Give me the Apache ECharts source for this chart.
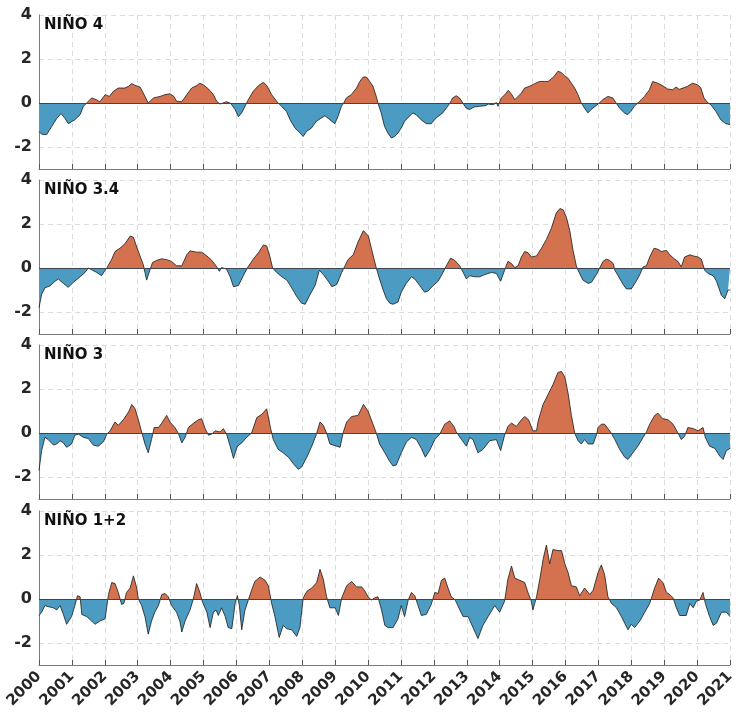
<!DOCTYPE html>
<html>
<head>
<meta charset="utf-8">
<script src="https://cdn.jsdelivr.net/npm/echarts@6/dist/echarts.min.js"></script>
<style>html,body{margin:0;padding:0;background:#fff}#c{width:738px;height:721px}</style>
</head>
<body>
<div id="c"></div>
<script>
const panelNames = ['NIÑO 4', 'NIÑO 3.4', 'NIÑO 3', 'NIÑO 1+2'];
const yTicks = [-2, 0, 2, 4];
const yearMin = 2000, yearMax = 2021;

const nino4 = [[2000.00,-1.29],[2000.08,-1.42],[2000.23,-1.44],[2000.39,-1.06],[2000.54,-0.70],[2000.67,-0.48],[2000.79,-0.70],[2000.89,-0.94],[2001.09,-0.76],[2001.25,-0.53],[2001.35,-0.15],[2001.45,0],[2001.60,0.23],[2001.75,0.15],[2001.85,0.05],[2002.01,0.38],[2002.06,0.45],[2002.14,0.30],[2002.26,0.53],[2002.41,0.68],[2002.61,0.68],[2002.72,0.76],[2002.82,0.88],[2002.92,0.80],[2003.07,0.73],[2003.17,0.45],[2003.32,0],[2003.48,0.23],[2003.68,0.30],[2003.83,0.38],[2003.98,0.42],[2004.10,0.30],[2004.18,0.08],[2004.34,0.06],[2004.49,0.38],[2004.64,0.68],[2004.79,0.79],[2004.89,0.90],[2004.99,0.83],[2005.15,0.64],[2005.30,0.38],[2005.40,0.08],[2005.50,-0.05],[2005.70,0.06],[2005.83,-0.02],[2005.96,-0.30],[2006.06,-0.62],[2006.16,-0.45],[2006.31,0],[2006.36,0.15],[2006.51,0.53],[2006.67,0.79],[2006.82,0.94],[2006.92,0.80],[2007.07,0.38],[2007.22,0.08],[2007.27,0],[2007.37,-0.15],[2007.52,-0.38],[2007.63,-0.76],[2007.78,-1.14],[2007.93,-1.36],[2008.03,-1.52],[2008.13,-1.29],[2008.28,-1.14],[2008.43,-0.83],[2008.58,-0.68],[2008.69,-0.58],[2008.84,-0.76],[2008.99,-0.94],[2009.09,-0.60],[2009.19,-0.15],[2009.26,0],[2009.34,0.23],[2009.49,0.38],[2009.65,0.68],[2009.75,0.98],[2009.85,1.18],[2009.95,1.18],[2010.05,0.98],[2010.15,0.76],[2010.25,0.30],[2010.30,0],[2010.40,-0.45],[2010.50,-1.06],[2010.60,-1.36],[2010.71,-1.59],[2010.81,-1.52],[2010.91,-1.36],[2011.01,-1.14],[2011.11,-0.83],[2011.26,-0.60],[2011.36,-0.45],[2011.46,-0.53],[2011.61,-0.76],[2011.77,-0.94],[2011.92,-0.94],[2012.07,-0.68],[2012.27,-0.45],[2012.42,-0.15],[2012.49,0],[2012.57,0.23],[2012.68,0.33],[2012.78,0.23],[2012.88,0],[2012.98,-0.23],[2013.08,-0.30],[2013.23,-0.18],[2013.38,-0.15],[2013.58,-0.12],[2013.65,-0.05],[2013.80,-0.08],[2013.90,0.02],[2013.95,-0.15],[2014.05,0.23],[2014.16,0.38],[2014.26,0.58],[2014.36,0.40],[2014.46,0.15],[2014.56,0.30],[2014.66,0.45],[2014.76,0.68],[2014.91,0.76],[2015.06,0.88],[2015.22,0.98],[2015.37,0.98],[2015.47,0.98],[2015.57,1.09],[2015.67,1.24],[2015.77,1.44],[2015.87,1.39],[2015.97,1.24],[2016.07,1.14],[2016.18,0.90],[2016.28,0.68],[2016.38,0.38],[2016.48,0],[2016.58,-0.23],[2016.68,-0.45],[2016.78,-0.30],[2016.93,-0.12],[2017.03,0],[2017.13,0.15],[2017.29,0.30],[2017.44,0.23],[2017.54,0],[2017.64,-0.23],[2017.79,-0.45],[2017.89,-0.53],[2017.99,-0.38],[2018.09,-0.15],[2018.20,0],[2018.30,0.15],[2018.40,0.30],[2018.55,0.60],[2018.65,0.98],[2018.80,0.90],[2018.95,0.79],[2019.10,0.64],[2019.26,0.60],[2019.36,0.73],[2019.46,0.62],[2019.61,0.70],[2019.71,0.76],[2019.86,0.90],[2020.01,0.83],[2020.11,0.70],[2020.21,0.23],[2020.32,0.02],[2020.42,-0.08],[2020.57,-0.38],[2020.72,-0.76],[2020.87,-0.94],[2021.00,-0.98]];

const nino34 = [[2000.00,-1.80],[2000.08,-1.20],[2000.18,-0.90],[2000.33,-0.82],[2000.49,-0.60],[2000.59,-0.50],[2000.74,-0.70],[2000.89,-0.88],[2001.04,-0.65],[2001.25,-0.40],[2001.40,-0.20],[2001.50,0],[2001.60,-0.08],[2001.75,-0.20],[2001.90,-0.35],[2002.01,-0.10],[2002.06,0],[2002.21,0.40],[2002.31,0.75],[2002.46,0.90],[2002.61,1.10],[2002.77,1.45],[2002.87,1.40],[2002.97,0.95],[2003.07,0.55],[2003.17,0.15],[2003.27,-0.55],[2003.37,-0.10],[2003.45,0.25],[2003.58,0.35],[2003.73,0.42],[2003.88,0.38],[2004.03,0.30],[2004.18,0.10],[2004.34,0.10],[2004.49,0.60],[2004.59,0.78],[2004.79,0.72],[2004.94,0.72],[2005.10,0.55],[2005.25,0.35],[2005.38,0.10],[2005.48,-0.15],[2005.55,0.02],[2005.70,-0.05],[2005.81,-0.40],[2005.91,-0.85],[2006.06,-0.80],[2006.21,-0.35],[2006.33,0],[2006.51,0.40],[2006.67,0.70],[2006.82,1.05],[2006.92,1.00],[2007.02,0.50],[2007.10,0],[2007.22,-0.20],[2007.38,-0.40],[2007.53,-0.55],[2007.68,-0.90],[2007.83,-1.30],[2007.98,-1.60],[2008.09,-1.65],[2008.24,-1.20],[2008.39,-0.80],[2008.52,-0.10],[2008.64,-0.30],[2008.79,-0.60],[2008.90,-0.85],[2009.05,-0.75],[2009.20,-0.20],[2009.30,0.10],[2009.40,0.40],[2009.55,0.60],[2009.70,1.20],[2009.86,1.70],[2010.01,1.45],[2010.10,0.90],[2010.25,0],[2010.35,-0.50],[2010.46,-1.00],[2010.56,-1.40],[2010.66,-1.60],[2010.76,-1.65],[2010.91,-1.55],[2011.01,-1.10],[2011.16,-0.70],[2011.32,-0.40],[2011.42,-0.50],[2011.57,-0.80],[2011.72,-1.10],[2011.82,-1.05],[2011.98,-0.80],[2012.13,-0.60],[2012.28,-0.20],[2012.38,0.10],[2012.51,0.45],[2012.63,0.35],[2012.79,0.10],[2012.89,-0.20],[2012.99,-0.50],[2013.09,-0.35],[2013.24,-0.40],[2013.39,-0.40],[2013.55,-0.30],[2013.75,-0.20],[2013.90,-0.25],[2014.03,-0.60],[2014.15,-0.10],[2014.25,0.30],[2014.36,0.20],[2014.46,0.02],[2014.56,0.10],[2014.66,0.50],[2014.76,0.75],[2014.86,0.70],[2014.96,0.50],[2015.12,0.55],[2015.27,0.90],[2015.42,1.30],[2015.57,1.80],[2015.72,2.50],[2015.83,2.70],[2015.93,2.65],[2016.03,2.30],[2016.13,1.70],[2016.23,0.80],[2016.33,0.10],[2016.38,-0.10],[2016.53,-0.55],[2016.69,-0.70],[2016.79,-0.65],[2016.94,-0.30],[2017.04,0],[2017.14,0.30],[2017.24,0.40],[2017.34,0.35],[2017.45,0.20],[2017.50,-0.10],[2017.60,-0.35],[2017.75,-0.75],[2017.85,-0.95],[2018.00,-0.95],[2018.15,-0.60],[2018.26,-0.30],[2018.36,0.05],[2018.46,0.10],[2018.56,0.50],[2018.69,0.90],[2018.81,0.85],[2018.91,0.75],[2019.07,0.80],[2019.17,0.60],[2019.32,0.40],[2019.42,0.30],[2019.52,0.05],[2019.62,0.50],[2019.78,0.60],[2019.88,0.55],[2020.03,0.50],[2020.13,0.40],[2020.23,-0.10],[2020.33,-0.25],[2020.49,-0.35],[2020.59,-0.60],[2020.74,-1.25],[2020.84,-1.40],[2020.94,-1.00],[2021.00,-1.00]];

const nino3 = [[2000.00,-1.70],[2000.08,-0.80],[2000.18,-0.20],[2000.28,-0.30],[2000.44,-0.55],[2000.54,-0.50],[2000.64,-0.35],[2000.74,-0.45],[2000.84,-0.65],[2000.99,-0.50],[2001.09,-0.10],[2001.20,-0.05],[2001.35,-0.20],[2001.50,-0.25],[2001.65,-0.55],[2001.80,-0.60],[2001.96,-0.40],[2002.06,-0.05],[2002.16,0.10],[2002.31,0.50],[2002.41,0.35],[2002.56,0.60],[2002.72,0.95],[2002.82,1.30],[2002.92,1.10],[2003.02,0.60],[2003.12,0.05],[2003.22,-0.50],[2003.32,-0.90],[2003.42,-0.30],[2003.50,0.25],[2003.63,0.25],[2003.73,0.45],[2003.88,0.80],[2003.98,0.50],[2004.13,0.25],[2004.23,0],[2004.34,-0.45],[2004.44,-0.20],[2004.54,0.25],[2004.70,0.45],[2004.84,0.60],[2004.94,0.65],[2005.05,0.20],[2005.15,-0.10],[2005.25,-0.05],[2005.35,0.10],[2005.50,0.05],[2005.60,0.20],[2005.70,-0.05],[2005.81,-0.60],[2005.91,-1.15],[2006.03,-0.60],[2006.16,-0.45],[2006.31,-0.20],[2006.46,0],[2006.62,0.70],[2006.77,0.85],[2006.92,1.10],[2007.04,0.20],[2007.12,-0.30],[2007.27,-0.75],[2007.42,-0.90],[2007.58,-1.10],[2007.73,-1.40],[2007.88,-1.65],[2007.98,-1.55],[2008.14,-1.10],[2008.29,-0.60],[2008.42,-0.10],[2008.54,0.50],[2008.64,0.35],[2008.74,0],[2008.84,-0.50],[2009.05,-0.60],[2009.15,-0.65],[2009.25,0.05],[2009.35,0.50],[2009.50,0.75],[2009.70,0.80],[2009.86,1.30],[2010.00,1.00],[2010.10,0.60],[2010.25,0],[2010.35,-0.50],[2010.51,-0.90],[2010.66,-1.30],[2010.76,-1.50],[2010.86,-1.45],[2011.01,-0.90],[2011.17,-0.40],[2011.32,-0.20],[2011.47,-0.30],[2011.62,-0.70],[2011.74,-1.10],[2011.87,-0.80],[2012.03,-0.30],[2012.18,-0.05],[2012.33,0.40],[2012.48,0.55],[2012.61,0.30],[2012.68,0.05],[2012.84,-0.30],[2012.99,-0.60],[2013.09,-0.20],[2013.19,-0.30],[2013.34,-0.90],[2013.49,-0.75],[2013.70,-0.35],[2013.90,-0.30],[2014.03,-0.80],[2014.15,-0.10],[2014.25,0.30],[2014.36,0.45],[2014.51,0.30],[2014.66,0.60],[2014.76,0.75],[2014.88,0.60],[2015.01,0.10],[2015.12,0.10],[2015.17,0.55],[2015.32,1.30],[2015.47,1.75],[2015.62,2.20],[2015.77,2.75],[2015.88,2.80],[2015.98,2.55],[2016.08,1.80],[2016.18,0.80],[2016.28,0],[2016.38,-0.35],[2016.48,-0.50],[2016.58,-0.30],[2016.69,-0.50],[2016.84,-0.50],[2016.94,-0.10],[2016.99,0.25],[2017.09,0.40],[2017.19,0.40],[2017.29,0.20],[2017.39,0],[2017.50,-0.30],[2017.65,-0.75],[2017.80,-1.10],[2017.90,-1.20],[2018.05,-0.90],[2018.20,-0.60],[2018.36,-0.20],[2018.46,0.05],[2018.56,0.40],[2018.71,0.80],[2018.81,0.90],[2018.96,0.65],[2019.12,0.60],[2019.27,0.40],[2019.42,0],[2019.52,-0.30],[2019.62,-0.15],[2019.72,0.25],[2019.88,0.20],[2020.03,0.10],[2020.18,0.25],[2020.25,-0.20],[2020.38,-0.60],[2020.54,-0.70],[2020.69,-1.05],[2020.79,-1.20],[2020.89,-0.80],[2021.00,-0.70]];

const nino12 = [[2000.00,-0.75],[2000.08,-0.60],[2000.18,-0.30],[2000.28,-0.35],[2000.44,-0.40],[2000.54,-0.50],[2000.64,-0.30],[2000.74,-0.70],[2000.84,-1.15],[2000.99,-0.80],[2001.09,-0.30],[2001.17,0.15],[2001.25,0.10],[2001.30,-0.70],[2001.45,-0.80],[2001.60,-1.00],[2001.70,-1.15],[2001.85,-1.00],[2002.01,-0.90],[2002.11,0.20],[2002.21,0.75],[2002.31,0.70],[2002.41,0.30],[2002.51,-0.25],[2002.58,-0.20],[2002.66,0.30],[2002.77,0.50],[2002.87,1.05],[2002.97,0.50],[2003.02,0],[2003.12,-0.30],[2003.22,-0.80],[2003.32,-1.60],[2003.42,-1.00],[2003.52,-0.60],[2003.63,-0.30],[2003.73,0.20],[2003.83,0.25],[2003.93,0.10],[2004.03,-0.30],[2004.18,-0.60],[2004.28,-1.00],[2004.34,-1.50],[2004.44,-1.00],[2004.59,-0.50],[2004.69,0],[2004.79,0.70],[2004.89,0.30],[2004.96,-0.10],[2005.10,-0.60],[2005.20,-1.30],[2005.30,-0.60],[2005.38,-0.50],[2005.45,-0.75],[2005.55,-0.40],[2005.66,-0.80],[2005.75,-1.30],[2005.86,-1.35],[2005.96,-0.20],[2006.03,0.15],[2006.09,-0.30],[2006.16,-1.40],[2006.26,-0.50],[2006.36,-0.05],[2006.46,0.40],[2006.56,0.80],[2006.72,1.00],[2006.87,0.85],[2006.97,0.60],[2007.07,-0.20],[2007.17,-0.80],[2007.30,-1.75],[2007.42,-1.20],[2007.53,-1.35],[2007.68,-1.40],[2007.83,-1.70],[2007.93,-1.30],[2008.03,0.05],[2008.14,0.35],[2008.29,0.50],[2008.44,0.75],[2008.54,1.35],[2008.64,0.90],[2008.74,0.10],[2008.84,-0.40],[2009.00,-0.40],[2009.10,-0.75],[2009.20,0.05],[2009.35,0.60],[2009.50,0.80],[2009.65,0.55],[2009.81,0.55],[2009.91,0.35],[2010.00,0.10],[2010.10,-0.05],[2010.20,0.05],[2010.30,0.10],[2010.41,-0.50],[2010.51,-1.20],[2010.61,-1.30],[2010.76,-1.30],[2010.91,-0.90],[2011.01,-0.30],[2011.11,-0.80],[2011.22,-0.05],[2011.32,0.30],[2011.42,0.15],[2011.52,-0.30],[2011.62,-0.75],[2011.77,-0.70],[2011.92,-0.25],[2012.03,0.30],[2012.13,0.25],[2012.23,0.85],[2012.33,0.95],[2012.43,0.50],[2012.53,0.10],[2012.65,-0.05],[2012.79,-0.50],[2012.89,-0.80],[2013.04,-0.80],[2013.19,-1.30],[2013.34,-1.80],[2013.49,-1.20],[2013.65,-0.80],[2013.85,-0.30],[2014.00,-0.60],[2014.15,-0.10],[2014.25,0.90],[2014.36,1.50],[2014.46,0.95],[2014.61,0.85],[2014.76,0.75],[2014.86,0.30],[2014.96,-0.10],[2015.01,-0.50],[2015.12,0.10],[2015.22,0.90],[2015.32,1.80],[2015.42,2.45],[2015.52,1.60],[2015.62,2.25],[2015.77,2.20],[2015.88,2.20],[2015.98,1.60],[2016.08,1.20],[2016.18,0.60],[2016.33,0.55],[2016.43,0.15],[2016.58,0.50],[2016.74,0.20],[2016.84,0.40],[2016.99,1.20],[2017.09,1.55],[2017.19,1.10],[2017.29,0.10],[2017.40,-0.20],[2017.55,-0.40],[2017.70,-0.80],[2017.80,-1.10],[2017.90,-1.40],[2018.00,-1.15],[2018.10,-1.30],[2018.26,-1.00],[2018.41,-0.60],[2018.56,-0.20],[2018.71,0.50],[2018.83,0.95],[2018.96,0.75],[2019.07,0.30],[2019.17,0.20],[2019.27,0.05],[2019.37,-0.40],[2019.47,-0.75],[2019.67,-0.75],[2019.78,-0.20],[2019.88,-0.40],[2019.98,-0.10],[2020.08,-0.05],[2020.18,0.30],[2020.25,-0.20],[2020.38,-0.80],[2020.49,-1.20],[2020.59,-1.10],[2020.74,-0.60],[2020.89,-0.60],[2021.00,-0.80]];

const seriesData = [nino4, nino34, nino3, nino12];

const ORANGE = '#d4714e', BLUE = '#4b9bc3';
const FONT = 'DejaVu Sans';
const gridTops = [15, 180, 345, 511];
const GRID_H = 154;

const chart = echarts.init(document.getElementById('c'), null, {renderer: 'canvas'});
const grids = [], xAxes = [], yAxes = [], series = [], titles = [];
for (let i = 0; i < 4; i++) {
  grids.push({left: 39, right: 8, top: gridTops[i], height: GRID_H});
  const last = i === 3;
  xAxes.push({
    type: 'value', gridIndex: i, min: yearMin, max: yearMax, interval: 1,
    axisLine: {show: true, onZero: false, lineStyle: {color: '#7a7a7a', width: 1}},
    axisTick: {show: true, inside: true, length: 5, lineStyle: {color: '#555'}},
    splitLine: {show: true, lineStyle: {color: '#dcdcdc', type: [5, 4], width: 1}},
    axisLabel: {show: last, rotate: 45, margin: 9, fontFamily: FONT, fontWeight: 'bold', fontSize: 15, color: '#262626', formatter: v => String(v)}
  });
  yAxes.push({
    type: 'value', gridIndex: i, min: -3, max: 4,
    axisLine: {show: true, onZero: false, lineStyle: {color: '#7a7a7a', width: 1}},
    axisTick: {show: false, customValues: yTicks},
    splitLine: {show: true, lineStyle: {color: '#dcdcdc', type: [5, 4], width: 1}},
    axisLabel: {customValues: yTicks, margin: 7, fontFamily: FONT, fontWeight: 'bold', fontSize: 16, color: '#262626'}
  });
  series.push({
    type: 'line', xAxisIndex: i, yAxisIndex: i, data: seriesData[i],
    symbol: 'none', showSymbol: false, smooth: false,
    lineStyle: {color: '#1a1a1a', width: 0.8},
    areaStyle: {opacity: 1, origin: 0},
    markLine: {silent: true, symbol: 'none', label: {show: false}, animation: false,
      lineStyle: {color: '#3d4650', width: 1.2, type: 'solid'}, data: [{yAxis: 0}]}
  });
  titles.push({text: panelNames[i], left: 44, top: gridTops[i] + 3, padding: 0,
    textStyle: {fontFamily: FONT, fontWeight: 'bold', fontSize: 15, color: '#111'}});
}

chart.setOption({
  animation: false,
  backgroundColor: '#fff',
  title: titles,
  grid: grids,
  xAxis: xAxes,
  yAxis: yAxes,
  visualMap: [{type: 'piecewise', show: false, seriesIndex: [0, 1, 2, 3], dimension: 1,
    pieces: [{gte: -10, lt: 0, color: BLUE}, {gte: 0, lte: 10, color: ORANGE}]}],
  series: series
});
</script>
</body>
</html>
